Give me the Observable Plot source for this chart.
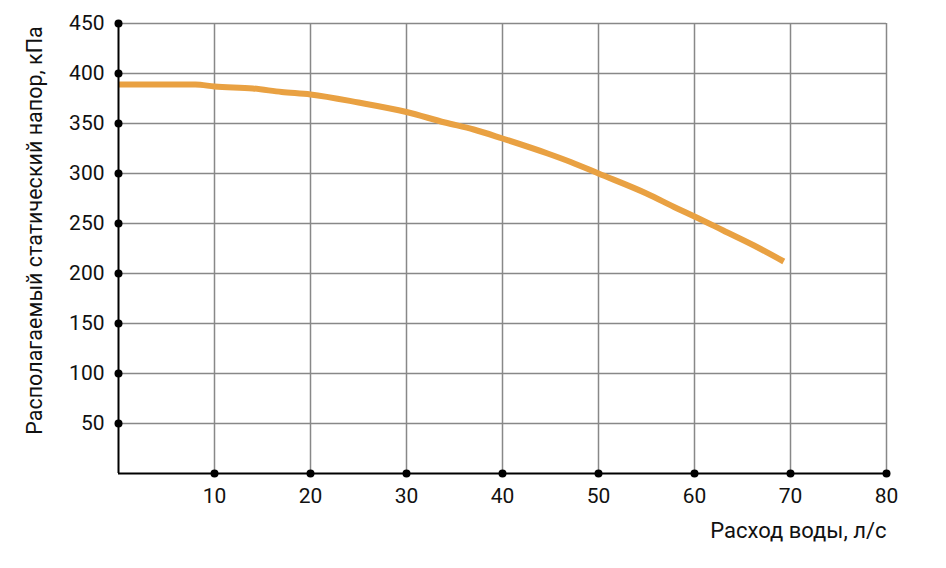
<!DOCTYPE html>
<html>
<head>
<meta charset="utf-8">
<script src="https://cdn.jsdelivr.net/npm/d3@7"></script>
<script src="https://cdn.jsdelivr.net/npm/@observablehq/plot@0.6"></script>
<style>
  html, body { margin: 0; padding: 0; background: #fff; }
</style>
</head>
<body>
<div id="chart"></div>
<script>
const flow = [0, 4, 8, 10, 14, 17, 20, 25, 30, 34, 37, 40, 44.7, 47.1, 50, 55, 58.2, 60, 63, 66.2, 69.3];
const pressure = [389, 389, 389, 387, 385, 381.5, 379, 371, 361.5, 351, 344, 335, 320, 311.5, 300, 280, 265, 257, 243, 228, 212];
const xTicks = [10, 20, 30, 40, 50, 60, 70, 80];
const yTicks = [50, 100, 150, 200, 250, 300, 350, 400, 450];
const xLabel = "Расход воды, л/с";
const yLabel = "Располагаемый статический напор, кПа";

const data = flow.map((f, i) => ({flow: f, pressure: pressure[i]}));
const font = "Roboto, 'Liberation Sans', sans-serif";

const chart = Plot.plot({
  width: 946,
  height: 568,
  marginLeft: 118,
  marginRight: 60,
  marginTop: 23,
  marginBottom: 95,
  style: {fontFamily: font, fontSize: "21px", color: "#111", background: "#fff"},
  x: {domain: [0, 80]},
  y: {domain: [0, 450]},
  marks: [
    Plot.gridX(xTicks, {stroke: "#888", strokeOpacity: 1, strokeWidth: 1.5}),
    Plot.gridY(yTicks, {stroke: "#888", strokeOpacity: 1, strokeWidth: 1.5}),
    Plot.axisY(yTicks, {tickSize: 0, tickPadding: 14, fontSize: 21, label: null}),
    Plot.axisX(xTicks, {tickSize: 0, tickPadding: 15, fontSize: 21, label: null}),
    Plot.line(data, {x: "flow", y: "pressure", stroke: "#E9A142", strokeWidth: 6, curve: "monotone-x", strokeLinecap: "butt"}),
    Plot.ruleX([0], {stroke: "#000", strokeWidth: 2}),
    Plot.ruleY([0], {stroke: "#000", strokeWidth: 2}),
    Plot.dot(yTicks, {x: () => 0, y: d => d, r: 4, fill: "#000"}),
    Plot.dot(xTicks, {x: d => d, y: () => 0, r: 4, fill: "#000"}),
    Plot.text([xLabel], {frameAnchor: "bottom-right", text: d => d, dy: 64, textAnchor: "end", fontSize: 22, fill: "#111"}),
    Plot.text([yLabel], {frameAnchor: "left", text: d => d, rotate: -90, textAnchor: "middle", dx: -83, dy: -18, fontSize: 21.5, fill: "#111"})
  ]
});
document.getElementById("chart").appendChild(chart);
</script>
</body>
</html>
